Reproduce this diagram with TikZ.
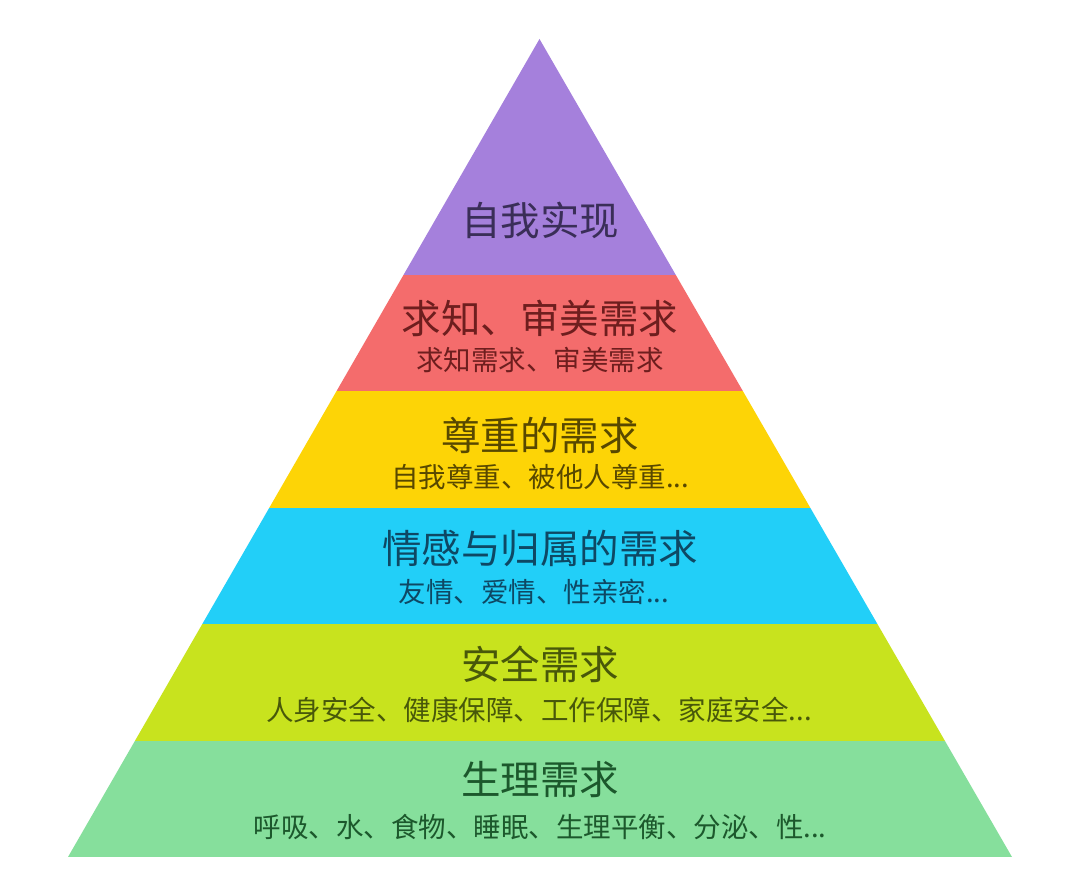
\documentclass[tikz,border=0pt]{standalone}
\usepackage{fontspec}
\newfontfamily\cjk{Noto Sans CJK SC}
\definecolor{cpurple}{RGB}{165,128,220}
\definecolor{cred}{RGB}{244,108,108}
\definecolor{cyellow}{RGB}{253,212,6}
\definecolor{cblue}{RGB}{34,207,248}
\definecolor{clime}{RGB}{200,227,30}
\definecolor{cgreen}{RGB}{134,223,156}
\definecolor{tpurple}{RGB}{58,46,88}
\definecolor{tred}{RGB}{110,30,30}
\definecolor{tyellow}{RGB}{88,72,0}
\definecolor{tblue}{RGB}{14,72,100}
\definecolor{tlime}{RGB}{72,88,10}
\definecolor{tgreen}{RGB}{28,88,44}
\tikzset{
  title/.style={inner sep=0pt, font=\cjk\fontsize{39.5}{39.5}\selectfont},
  sub/.style={inner sep=0pt, font=\cjk\fontsize{27.5}{27.5}\selectfont},
}
\begin{document}
\begin{tikzpicture}[x=1pt,y=-1pt]
\useasboundingbox (0,0) rectangle (1080,896);
\fill[white] (0,0) rectangle (1080,896);
\coordinate (apex) at (539.5,39);
\coordinate (bl) at (68,857);
\coordinate (br) at (1012,857);
\begin{scope}
  \clip (apex) -- (bl) -- (br) -- cycle;
  \fill[cpurple] (0,30) rectangle (1080,275);
  \fill[cred] (0,275) rectangle (1080,391.4);
  \fill[cyellow] (0,391.4) rectangle (1080,507.8);
  \fill[cblue] (0,507.8) rectangle (1080,624.2);
  \fill[clime] (0,624.2) rectangle (1080,740.6);
  \fill[cgreen] (0,740.6) rectangle (1080,857);
\end{scope}
\node[title, text=tpurple] (t1) at (540,220) {自我实现};
\node[title, text=tred] (t2) at (540,318) {求知、审美需求};
\node[sub, text=tred] (s2) at (540,360) {求知需求、审美需求};
\node[title, text=tyellow] (t3) at (540,435) {尊重的需求};
\node[sub, text=tyellow] (s3) at (540,477) {自我尊重、被他人尊重...};
\node[title, text=tblue] (t4) at (540,548) {情感与归属的需求};
\node[sub, text=tblue] (s4) at (534,592) {友情、爱情、性亲密...};
\node[title, text=tlime] (t5) at (540,664) {安全需求};
\node[sub, text=tlime] (s5) at (539,710) {人身安全、健康保障、工作保障、家庭安全...};
\node[title, text=tgreen] (t6) at (540,780) {生理需求};
\node[sub, text=tgreen] (s6) at (540,827) {呼吸、水、食物、睡眠、生理平衡、分泌、性...};
\end{tikzpicture}
\end{document}
